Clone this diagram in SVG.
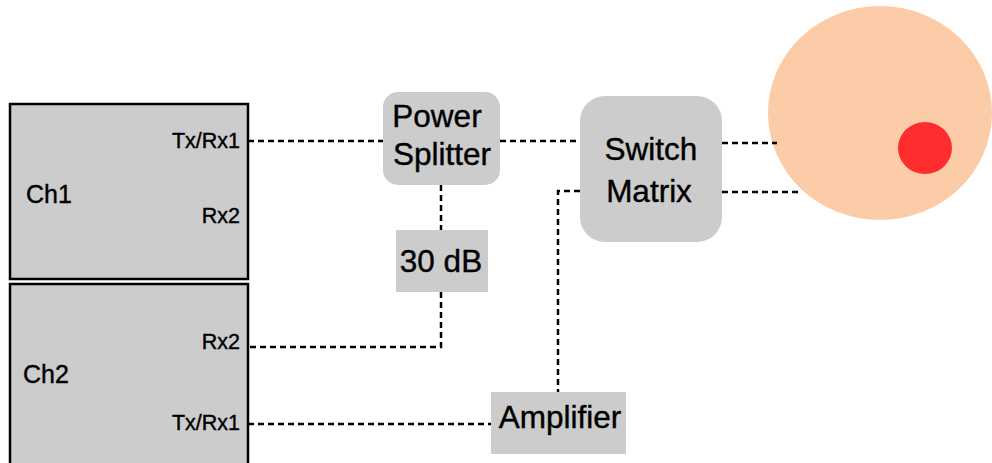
<svg xmlns="http://www.w3.org/2000/svg" width="992" height="463" viewBox="0 0 992 463">
<style>
.ch{fill:#cccccc;stroke:#000;stroke-width:2.5}
.blk{fill:#cccccc}
.t{font-family:"Liberation Sans",Arial,sans-serif;fill:#000;stroke:#000;stroke-width:0.4}
.port{font-size:21.5px;text-anchor:end}
.lbl{font-size:25px}
.big{font-size:31.5px;text-anchor:middle}
.dash{fill:none;stroke:#000;stroke-width:2.5;stroke-dasharray:6 4}
</style>
<rect width="992" height="463" fill="#fff"/>
<g id="target">
<ellipse cx="880" cy="113" rx="112" ry="107" fill="#fccca8"/>
<ellipse cx="925" cy="148" rx="27" ry="26" fill="#ff2d2d"/>
</g>
<g id="connectors">
<path class="dash" d="M248 141H383"/>
<path class="dash" d="M500 141H580"/>
<path class="dash" d="M441 185V230"/>
<path class="dash" d="M441 292V347H248"/>
<path class="dash" d="M580 191H558V392"/>
<path class="dash" d="M248 424H491"/>
<path class="dash" d="M722 143H777"/>
<path class="dash" d="M722 192H802"/>
</g>
<g id="ch1">
<rect class="ch" x="10" y="104" width="238" height="175"/>
<text class="t lbl" x="26" y="203">Ch1</text>
<text class="t port" x="240" y="148">Tx/Rx1</text>
<text class="t port" x="240" y="223">Rx2</text>
</g>
<g id="ch2">
<rect class="ch" x="10" y="284" width="238" height="185"/>
<text class="t lbl" x="23" y="383">Ch2</text>
<text class="t port" x="240" y="349">Rx2</text>
<text class="t port" x="240" y="430">Tx/Rx1</text>
</g>
<g id="splitter">
<rect class="blk" x="383" y="92" width="117" height="93" rx="15"/>
<text class="t big" x="437" y="127">Power</text>
<text class="t big" x="442" y="165">Splitter</text>
</g>
<g id="attenuator">
<rect class="blk" x="396" y="230" width="92" height="62"/>
<text class="t big" x="441" y="272">30 dB</text>
</g>
<g id="switch">
<rect class="blk" x="580" y="96" width="142" height="146" rx="25"/>
<text class="t big" x="651" y="160">Switch</text>
<text class="t big" x="649" y="202">Matrix</text>
</g>
<g id="amplifier">
<rect class="blk" x="491" y="392" width="135" height="62"/>
<text class="t big" x="560" y="428">Amplifier</text>
</g>
</svg>
